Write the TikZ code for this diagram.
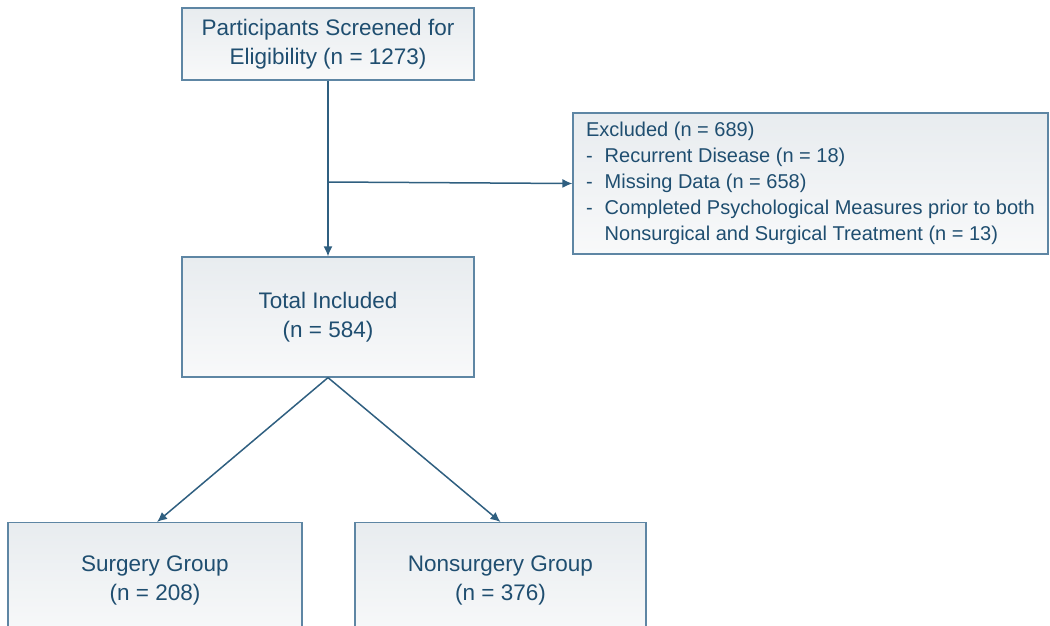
\documentclass[tikz,border=0pt]{standalone}
\usepackage{fontspec}
\setmainfont{Liberation Sans}
\usetikzlibrary{arrows.meta,positioning}
\definecolor{txt}{HTML}{1F4E70}
\definecolor{edge}{HTML}{5E86A4}
\definecolor{wire}{HTML}{2F5F80}
\definecolor{boxtop}{HTML}{E8ECEF}
\definecolor{boxbot}{HTML}{F8F9FA}
\tikzset{
  flowbox/.style={draw=edge, line width=1.2pt, top color=boxtop, bottom color=boxbot,
    text=txt, align=center, inner sep=0pt, font=\fontsize{22.5}{29}\selectfont},
  link/.style={draw=wire, line width=1.5pt, -{Latex[length=10pt,width=9pt]}},
}
\begin{document}
\begin{tikzpicture}[x=1pt,y=-1pt]
\useasboundingbox (0,0) rectangle (1050,625);
\clip (0,0) rectangle (1050,625);
\node[flowbox, minimum width=292pt, minimum height=72pt] (screen) at (328,44)
  {Participants Screened for\\Eligibility (n = 1273)};
\node[flowbox, minimum width=292pt, minimum height=120pt] (total) at (328,317)
  {Total Included\\(n = 584)};
\node[flowbox, minimum width=475pt, minimum height=141pt, align=left,
      font=\fontsize{20}{26}\selectfont] (excl) at (810.5,183.5)
  {\raisebox{-2pt}{\begin{tabular}{@{}l@{\hspace{12pt}}l@{}}
   \multicolumn{2}{@{}l@{}}{Excluded (n = 689)}\\
   - & Recurrent Disease (n = 18)\\
   - & Missing Data (n = 658)\\
   - & Completed Psychological Measures prior to both\\
     & Nonsurgical and Surgical Treatment (n = 13)
   \end{tabular}}};
\node[flowbox, minimum width=294pt, minimum height=115pt, anchor=north] (surg) at (155,522)
  {Surgery Group\\(n = 208)};
\node[flowbox, minimum width=291pt, minimum height=115pt, anchor=north] (nonsurg) at (500.5,522)
  {Nonsurgery Group\\(n = 376)};
\coordinate (split) at (329,182);
\draw[link] (screen.south) -- (total.north);
\draw[link] (split) -- (excl.west);
\draw[link] (total.south) -- ([xshift=2pt]surg.north);
\draw[link] (total.south) -- (nonsurg.north);
\end{tikzpicture}
\end{document}
